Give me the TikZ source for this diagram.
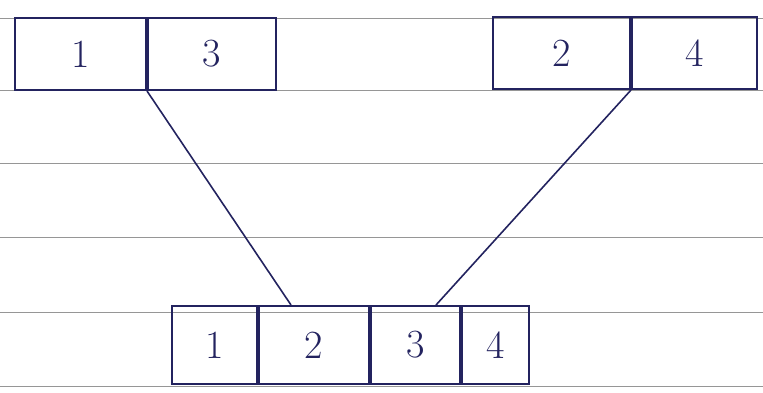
\documentclass[tikz,border=0pt]{standalone}
\usepackage{tikz}
\usetikzlibrary{positioning}
\definecolor{ink}{RGB}{35,35,95}
\definecolor{paperrule}{RGB}{150,150,150}

\begin{document}
\begin{tikzpicture}[x=1pt, y=-1pt,
    cell/.style={draw=ink, line width=2pt, inner sep=0pt, minimum height=72pt,
      anchor=north west, text=ink, font=\fontsize{40}{42}\selectfont},
    link/.style={draw=ink, line width=1.6pt}]
  \useasboundingbox (0,0) rectangle (763,392);
  % lignes du cahier
  \foreach \y in {18,90,163,237,312,386}
    \draw[paperrule, line width=0.8pt] (0,\y) -- (763,\y);
  % tableau gauche
  \node[cell, minimum width=131pt] (l1) at (14,17) {1};
  \node[cell, minimum width=128pt, right=0pt of l1] (l3) {3};
  % tableau droit
  \node[cell, minimum width=137pt] (r2) at (492,16) {2};
  \node[cell, minimum width=125pt, right=0pt of r2] (r4) {4};
  % tableau fusionne
  \node[cell, minimum width=85pt, minimum height=78pt] (m1) at (171,305) {1};
  \node[cell, minimum width=110pt, minimum height=78pt, right=0pt of m1] (m2) {2};
  \node[cell, minimum width=89pt, minimum height=78pt, right=0pt of m2] (m3) {3};
  \node[cell, minimum width=67pt, minimum height=78pt, right=0pt of m3] (m4) {4};
  % liaisons
  \coordinate (inl) at (291,305);
  \coordinate (inr) at (436,305);
  \draw[link] (l1.south east) -- (inl);
  \draw[link] (r2.south east) -- (inr);
\end{tikzpicture}
\end{document}
